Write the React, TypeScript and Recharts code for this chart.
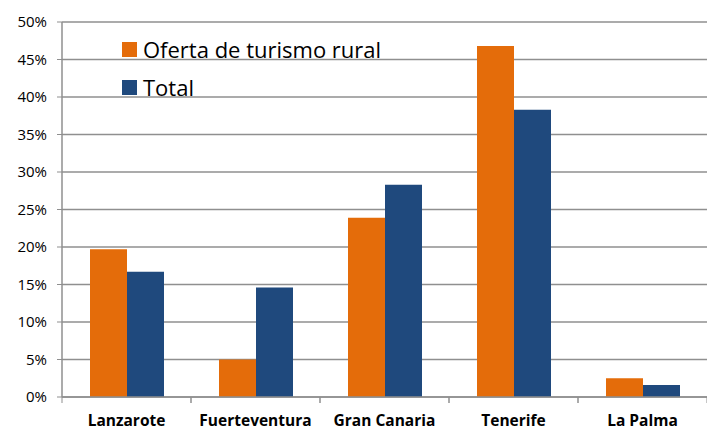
import React from 'react';
import { BarChart, Bar, XAxis, YAxis, CartesianGrid, Legend } from 'recharts';

const islands = ['Lanzarote', 'Fuerteventura', 'Gran Canaria', 'Tenerife', 'La Palma'];
const ofertaRural = [19.7, 5.0, 23.9, 46.8, 2.5];
const total = [16.7, 14.6, 28.3, 38.3, 1.6];
const yTicks = [0, 5, 10, 15, 20, 25, 30, 35, 40, 45, 50];

const ORANGE = '#E46C0A';
const BLUE = '#1F497D';
const GRID = '#8f8f8f';
const FONT = '"Open Sans", "Liberation Sans", sans-serif';

const data = islands.map((name, i) => ({
  name,
  rural: ofertaRural[i],
  total: total[i],
}));

// category labels, plus the little ticks that sit on the category edges
const IslandTick = (props: any) => {
  const { x, y, payload } = props;
  const half = payload && payload.offset ? payload.offset : 64.5;
  return (
    <g>
      <line x1={x - half} x2={x - half} y1={y - 8} y2={y - 2} stroke={GRID} />
      <line x1={x + half} x2={x + half} y1={y - 8} y2={y - 2} stroke={GRID} />
      <text
        x={x}
        y={y + 21}
        textAnchor="middle"
        fontFamily={FONT}
        fontWeight={700}
        fontSize={15.5}
        fill="#000"
      >
        {payload.value}
      </text>
    </g>
  );
};

const LegendBox = (props: any) => {
  const items = props.payload || [];
  return (
    <div style={{ fontFamily: FONT }}>
      {items.map((it: any) => (
        <div
          key={it.value}
          style={{ display: 'flex', alignItems: 'center', height: 38, fontSize: 22, color: '#000' }}
        >
          <span
            style={{ display: 'inline-block', width: 15, height: 15, background: it.color, marginRight: 6 }}
          />
          {it.value}
        </div>
      ))}
    </div>
  );
};

export default function App() {
  return (
    <div style={{ position: 'absolute', left: 0, top: 0, width: 707, height: 430, background: '#fff' }}>
      <BarChart
        width={707}
        height={430}
        data={data}
        margin={{ top: 22, right: 0, bottom: 0, left: 0 }}
        barGap={0}
        barSize={37}
      >
        <CartesianGrid vertical={false} stroke={GRID} strokeWidth={1.5} />
        <XAxis
          dataKey="name"
          axisLine={{ stroke: GRID, strokeWidth: 1.5 }}
          tickLine={false}
          tick={<IslandTick />}
          interval={0}
          height={33}
        />
        <YAxis
          domain={[0, 50]}
          ticks={yTicks}
          tickFormatter={(v: number) => `${v}%`}
          axisLine={{ stroke: GRID, strokeWidth: 1.5 }}
          tickLine={{ stroke: GRID }}
          tickSize={5}
          tickMargin={10}
          tick={{ fill: '#000', fontSize: 15, fontFamily: FONT }}
          width={62}
        />
        <Legend
          layout="horizontal"
          align="center"
          verticalAlign="middle"
          content={<LegendBox />}
          wrapperStyle={{ left: 122, top: 30, width: 340 }}
        />
        <Bar dataKey="rural" name="Oferta de turismo rural" fill={ORANGE} isAnimationActive={false} />
        <Bar dataKey="total" name="Total" fill={BLUE} isAnimationActive={false} />
      </BarChart>
    </div>
  );
}
